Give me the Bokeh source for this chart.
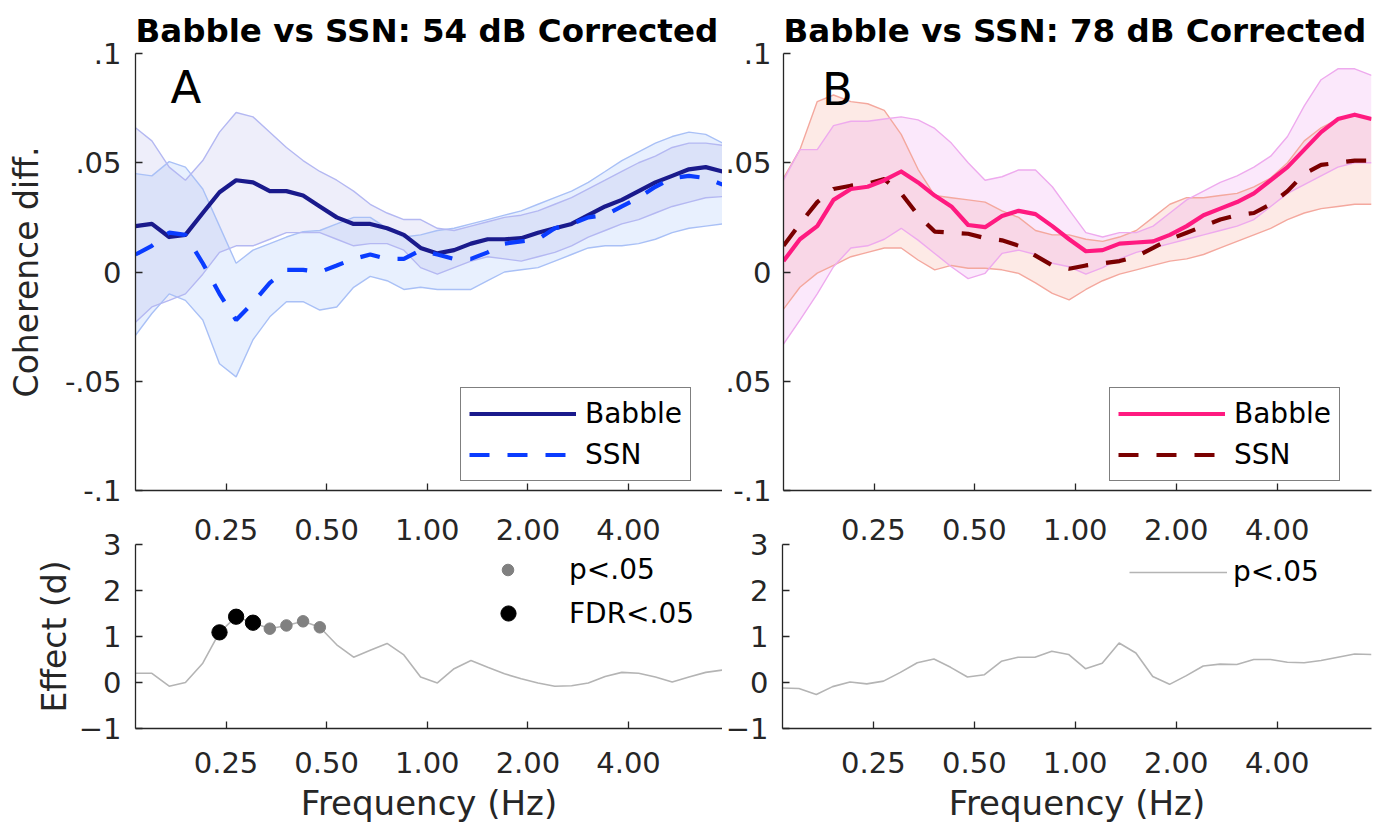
from bokeh.plotting import figure
from bokeh.models import Range1d, FixedTicker, LogAxis, Legend, LegendItem, Label
from bokeh.layouts import column, row
from bokeh.embed import file_html
from bokeh.resources import INLINE

FONT = "DejaVu Sans"
INK = "#262626"

# ---------------- data ----------------
freq = [0.134, 0.150, 0.169, 0.189, 0.213, 0.239, 0.268, 0.301, 0.338, 0.379,
        0.425, 0.477, 0.536, 0.602, 0.675, 0.758, 0.851, 0.955, 1.072, 1.203,
        1.351, 1.516, 1.702, 1.910, 2.144, 2.407, 2.701, 3.032, 3.404, 3.820,
        4.288, 4.813, 5.403, 6.065, 6.807, 7.641]

x_ticks = [0.25, 0.5, 1, 2, 4]
x_tick_labels = ["0.25", "0.50", "1.00", "2.00", "4.00"]
coh_ticks = [-0.1, -0.05, 0, 0.05, 0.1]
coh_labels_a = ["-.1", "-.05", "0", ".05", ".1"]
coh_labels_b = ["-.1", ".05", "0", ".05", ".1"]
eff_ticks = [-1, 0, 1, 2, 3]

# Panel A (54 dB)
babble_a = [0.021, 0.022, 0.016, 0.017, 0.027, 0.0365, 0.042, 0.041, 0.037, 0.037,
            0.035, 0.030, 0.025, 0.022, 0.022, 0.020, 0.017, 0.011, 0.0085, 0.010,
            0.013, 0.015, 0.015, 0.0155, 0.018, 0.020, 0.022, 0.026, 0.030, 0.033,
            0.037, 0.041, 0.044, 0.047, 0.048, 0.046]
ssn_a = [0.008, 0.012, 0.018, 0.017, 0.004, -0.010, -0.022, -0.014, -0.005, 0.001,
         0.001, 0.000, 0.003, 0.006, 0.008, 0.006, 0.006, 0.010, 0.008, 0.006,
         0.006, 0.009, 0.013, 0.014, 0.015, 0.020, 0.022, 0.025, 0.026, 0.030,
         0.034, 0.039, 0.043, 0.044, 0.043, 0.040]
babble_a_hi = [0.066, 0.060, 0.048, 0.042, 0.051, 0.064, 0.073, 0.071, 0.064, 0.057,
               0.051, 0.046, 0.042, 0.037, 0.031, 0.027, 0.024, 0.024, 0.020, 0.019,
               0.021, 0.023, 0.025, 0.026, 0.028, 0.031, 0.034, 0.038, 0.042, 0.046,
               0.050, 0.053, 0.057, 0.059, 0.059, 0.058]
babble_a_lo = [-0.023, -0.016, -0.013, -0.010, -0.001, 0.009, 0.012, 0.012, 0.015, 0.018,
               0.018, 0.018, 0.015, 0.012, 0.013, 0.013, 0.010, 0.002, -0.001, 0.002,
               0.005, 0.007, 0.006, 0.005, 0.007, 0.009, 0.012, 0.016, 0.019, 0.022,
               0.024, 0.027, 0.030, 0.032, 0.034, 0.0345]
ssn_a_hi = [0.045, 0.044, 0.0505, 0.048, 0.038, 0.021, 0.004, 0.010, 0.013, 0.016,
            0.0185, 0.019, 0.022, 0.025, 0.025, 0.020, 0.016, 0.017, 0.019, 0.020,
            0.022, 0.024, 0.026, 0.028, 0.031, 0.034, 0.037, 0.041, 0.046, 0.051,
            0.055, 0.059, 0.062, 0.064, 0.063, 0.059]
ssn_a_lo = [-0.029, -0.019, -0.010, -0.013, -0.022, -0.042, -0.048, -0.031, -0.0205, -0.0136,
            -0.0136, -0.0174, -0.016, -0.007, -0.002, -0.004, -0.008, -0.007, -0.008, -0.008,
            -0.008, -0.004, 0.000, 0.001, 0.002, 0.005, 0.008, 0.011, 0.012, 0.012,
            0.013, 0.015, 0.018, 0.020, 0.021, 0.022]
effect_a = [0.20, 0.20, -0.08, 0.00, 0.42, 1.09, 1.43, 1.30, 1.17, 1.24,
            1.33, 1.20, 0.82, 0.55, 0.70, 0.85, 0.60, 0.12, -0.01, 0.30,
            0.48, 0.33, 0.19, 0.08, -0.01, -0.08, -0.07, -0.01, 0.13, 0.22,
            0.20, 0.12, 0.01, 0.12, 0.22, 0.27]
p_idx_a = [8, 9, 10, 11]
fdr_idx_a = [5, 6, 7]

# Panel B (78 dB)
babble_b = [0.005, 0.015, 0.021, 0.033, 0.038, 0.039, 0.042, 0.046, 0.041, 0.035,
            0.030, 0.0215, 0.0205, 0.0256, 0.028, 0.0265, 0.021, 0.015, 0.0095, 0.010,
            0.013, 0.0135, 0.014, 0.017, 0.021, 0.026, 0.029, 0.032, 0.036, 0.042,
            0.048, 0.056, 0.064, 0.070, 0.072, 0.070]
ssn_b = [0.012, 0.022, 0.032, 0.038, 0.0395, 0.0405, 0.0425, 0.036, 0.026, 0.0185,
         0.018, 0.0175, 0.0155, 0.0145, 0.012, 0.0075, 0.003, 0.0015, 0.003, 0.004,
         0.005, 0.007, 0.011, 0.015, 0.018, 0.021, 0.024, 0.026, 0.027, 0.031,
         0.037, 0.045, 0.049, 0.050, 0.051, 0.051]
babble_b_hi = [0.042, 0.056, 0.056, 0.067, 0.069, 0.069, 0.070, 0.071, 0.0696, 0.0657,
               0.059, 0.050, 0.042, 0.0436, 0.0467, 0.0467, 0.039, 0.0284, 0.018, 0.016,
               0.018, 0.018, 0.021, 0.027, 0.033, 0.037, 0.041, 0.044, 0.048, 0.053,
               0.062, 0.076, 0.088, 0.093, 0.093, 0.090]
babble_b_lo = [-0.033, -0.022, -0.010, 0.0024, 0.011, 0.012, 0.015, 0.020, 0.0146, 0.0085,
               0.0024, -0.003, -0.0006, 0.0085, 0.010, 0.008, 0.004, 0.0024, -0.001, 0.002,
               0.006, 0.009, 0.011, 0.013, 0.015, 0.017, 0.019, 0.021, 0.024, 0.030,
               0.036, 0.040, 0.044, 0.048, 0.050, 0.050]
ssn_b_hi = [0.043, 0.056, 0.078, 0.081, 0.078, 0.077, 0.074, 0.063, 0.047, 0.035,
            0.034, 0.033, 0.032, 0.028, 0.025, 0.019, 0.017, 0.017, 0.015, 0.014,
            0.016, 0.019, 0.025, 0.031, 0.034, 0.034, 0.035, 0.036, 0.039, 0.043,
            0.050, 0.060, 0.066, 0.070, 0.072, 0.070]
ssn_b_lo = [-0.017, -0.007, -0.0005, 0.003, 0.007, 0.009, 0.011, 0.011, 0.0055, 0.001,
            0.003, 0.0017, 0.0017, 0.001, -0.0006, -0.005, -0.0098, -0.0128, -0.008, -0.004,
            -0.001, 0.001, 0.003, 0.005, 0.006, 0.008, 0.011, 0.014, 0.017, 0.020,
            0.024, 0.027, 0.029, 0.030, 0.031, 0.031]
effect_b = [-0.12, -0.13, -0.26, -0.09, 0.01, -0.03, 0.03, 0.22, 0.43, 0.51,
            0.33, 0.12, 0.17, 0.46, 0.55, 0.55, 0.68, 0.61, 0.30, 0.42,
            0.86, 0.64, 0.13, -0.04, 0.15, 0.36, 0.40, 0.39, 0.50, 0.50,
            0.44, 0.43, 0.48, 0.55, 0.62, 0.61]


# ---------------- helpers ----------------
def style_axis(ax, standoff):
    ax.axis_line_color = INK
    ax.axis_line_width = 1.3
    ax.major_tick_line_color = INK
    ax.major_tick_line_width = 1.3
    ax.major_tick_in = 7
    ax.major_tick_out = 0
    ax.minor_tick_line_color = None
    ax.major_label_text_font = FONT
    ax.major_label_text_font_size = "29px"
    ax.major_label_text_color = INK
    ax.major_label_standoff = standoff
    ax.axis_label_text_font = FONT
    ax.axis_label_text_font_style = "normal"
    ax.axis_label_text_color = INK


def make_fig(width, height, yr, yt, mbl, mbr, mbt, mbb, ystand):
    p = figure(width=width, height=height, x_axis_type="log",
               x_range=Range1d(freq[0], freq[-1]), y_range=Range1d(*yr),
               output_backend="svg", toolbar_location=None,
               min_border_left=mbl, min_border_right=mbr,
               min_border_top=mbt, min_border_bottom=mbb)
    p.outline_line_color = None
    p.xgrid.visible = False
    p.ygrid.visible = False
    p.background_fill_color = "white"
    p.xaxis.ticker = FixedTicker(ticks=x_ticks)
    p.xaxis.major_label_overrides = dict(zip(x_ticks, x_tick_labels))
    p.yaxis.ticker = FixedTicker(ticks=yt)
    for ax in p.xaxis:
        style_axis(ax, 23)
    for ax in p.yaxis:
        style_axis(ax, ystand)
    return p


def top_labels_axis(p):
    ax = LogAxis(ticker=FixedTicker(ticks=x_ticks),
                 major_label_overrides=dict(zip(x_ticks, x_tick_labels)))
    style_axis(ax, 5)
    ax.axis_line_color = None
    ax.major_tick_line_color = None
    p.add_layout(ax, "above")


def hide_x_labels(p):
    p.xaxis.major_label_text_font_size = "1px"
    p.xaxis.major_label_text_alpha = 0
    p.xaxis.major_label_standoff = 0


def set_title(p, text):
    p.title.text = text
    p.title.text_font = FONT
    p.title.text_font_size = "32.5px"
    p.title.text_font_style = "bold"
    p.title.text_color = "black"
    p.title.align = "left"
    p.title.standoff = 7


def box_legend(p, items, x):
    leg = Legend(items=items, location=(x, 9), orientation="vertical",
                 padding=8, spacing=6, glyph_width=107, glyph_height=35,
                 label_height=35, label_standoff=9, margin=0,
                 label_text_font=FONT, label_text_font_size="28px",
                 label_text_color="black",
                 border_line_color="black", border_line_width=1,
                 background_fill_color="white", background_fill_alpha=1.0)
    p.add_layout(leg)


def plain_legend(p, items, loc, gw, gh, standoff):
    leg = Legend(items=items, location=loc, orientation="vertical",
                 padding=0, spacing=0, glyph_width=gw, glyph_height=gh,
                 label_height=gh, label_standoff=standoff, margin=0,
                 label_text_font=FONT, label_text_font_size="28px",
                 label_text_color="black",
                 border_line_color=None, background_fill_alpha=0.0)
    p.add_layout(leg)


DASH = "20 18"

# ---------------- panel A (top-left) ----------------
ta = make_fig(722, 507, (-0.1, 0.1), coh_ticks, 135, 0, 53, 17, 14)
ta.yaxis.major_label_overrides = dict(zip(coh_ticks, coh_labels_a))
ta.yaxis.axis_label = "Coherence diff."
ta.yaxis.axis_label_text_font_size = "33px"
ta.yaxis.axis_label_standoff = 16
hide_x_labels(ta)
set_title(ta, "Babble vs SSN: 54 dB Corrected")

ta.varea(x=freq, y1=ssn_a_lo, y2=ssn_a_hi, fill_color="#8cb4fa", fill_alpha=0.2)
ta.varea(x=freq, y1=babble_a_lo, y2=babble_a_hi, fill_color="#aaaae6", fill_alpha=0.2)
for arr in (ssn_a_hi, ssn_a_lo):
    ta.line(freq, arr, line_color="#a9c0f6", line_width=1.4)
for arr in (babble_a_hi, babble_a_lo):
    ta.line(freq, arr, line_color="#b4b8f2", line_width=1.4)
r_bab_a = ta.line(freq, babble_a, line_color="#1a1a8c", line_width=4.2, line_join="round")
r_ssn_a = ta.line(freq, ssn_a, line_color="#0a3cff", line_width=4.2, line_dash=DASH)
box_legend(ta, [LegendItem(label="Babble", renderers=[r_bab_a]),
                LegendItem(label="SSN", renderers=[r_ssn_a])], 325)
ta.add_layout(Label(x=0.1706, y=0.0845, text="A", text_font=FONT, text_font_size="45px",
                    text_color="black", text_baseline="middle"))

# ---------------- panel B (top-right) ----------------
tb = make_fig(668, 507, (-0.1, 0.1), coh_ticks, 59, 19, 53, 17, 12)
tb.yaxis.major_label_overrides = dict(zip(coh_ticks, coh_labels_b))
hide_x_labels(tb)
set_title(tb, "Babble vs SSN: 78 dB Corrected")

tb.varea(x=freq, y1=ssn_b_lo, y2=ssn_b_hi, fill_color="#f59682", fill_alpha=0.2)
tb.varea(x=freq, y1=babble_b_lo, y2=babble_b_hi, fill_color="#eb8ceb", fill_alpha=0.2)
for arr in (ssn_b_hi, ssn_b_lo):
    tb.line(freq, arr, line_color="#f4a89e", line_width=1.4)
for arr in (babble_b_hi, babble_b_lo):
    tb.line(freq, arr, line_color="#eeaaee", line_width=1.4)
r_ssn_b = tb.line(freq, ssn_b, line_color="#7a0000", line_width=4.2, line_dash=DASH)
r_bab_b = tb.line(freq, babble_b, line_color="#ff1a80", line_width=4.2, line_join="round")
box_legend(tb, [LegendItem(label="Babble", renderers=[r_bab_b]),
                LegendItem(label="SSN", renderers=[r_ssn_b])], 326)
tb.add_layout(Label(x=0.1747, y=0.0835, text="B", text_font=FONT, text_font_size="45px",
                    text_color="black", text_baseline="middle"))

# ---------------- effect A (bottom-left) ----------------
ba = make_fig(722, 327, (-1, 3), eff_ticks, 135, 0, 37, 106, 14)
ba.yaxis.axis_label = "Effect (d)"
ba.yaxis.axis_label_text_font_size = "33px"
ba.yaxis.axis_label_standoff = 2
ba.xaxis.axis_label = "Frequency (Hz)"
ba.xaxis.axis_label_text_font_size = "34px"
ba.xaxis.axis_label_standoff = 7
top_labels_axis(ba)
ba.line(freq, effect_a, line_color="#b4b4b4", line_width=1.6)
r_p_a = ba.scatter([freq[i] for i in p_idx_a], [effect_a[i] for i in p_idx_a],
                   size=11.5, fill_color="#808080", line_color="#808080")
r_fdr_a = ba.scatter([freq[i] for i in fdr_idx_a], [effect_a[i] for i in fdr_idx_a],
                     size=15.3, fill_color="black", line_color="black")
plain_legend(ba, [LegendItem(label="p<.05", renderers=[r_p_a])], (358, 142), 29, 29, 47)
plain_legend(ba, [LegendItem(label="FDR<.05", renderers=[r_fdr_a])], (354, 96), 38, 38, 42)

# ---------------- effect B (bottom-right) ----------------
bb = make_fig(668, 327, (-1, 3), eff_ticks, 59, 19, 37, 106, 14)
bb.xaxis.axis_label = "Frequency (Hz)"
bb.xaxis.axis_label_text_font_size = "34px"
bb.xaxis.axis_label_standoff = 7
top_labels_axis(bb)
r_eff_b = bb.line(freq, effect_b, line_color="#b4b4b4", line_width=1.6)
plain_legend(bb, [LegendItem(label="p<.05", renderers=[r_eff_b])], (347, 140), 98, 28, 6)

layout = column(row(ta, tb), row(ba, bb))
open("out.html", "w").write(file_html(layout, INLINE))
